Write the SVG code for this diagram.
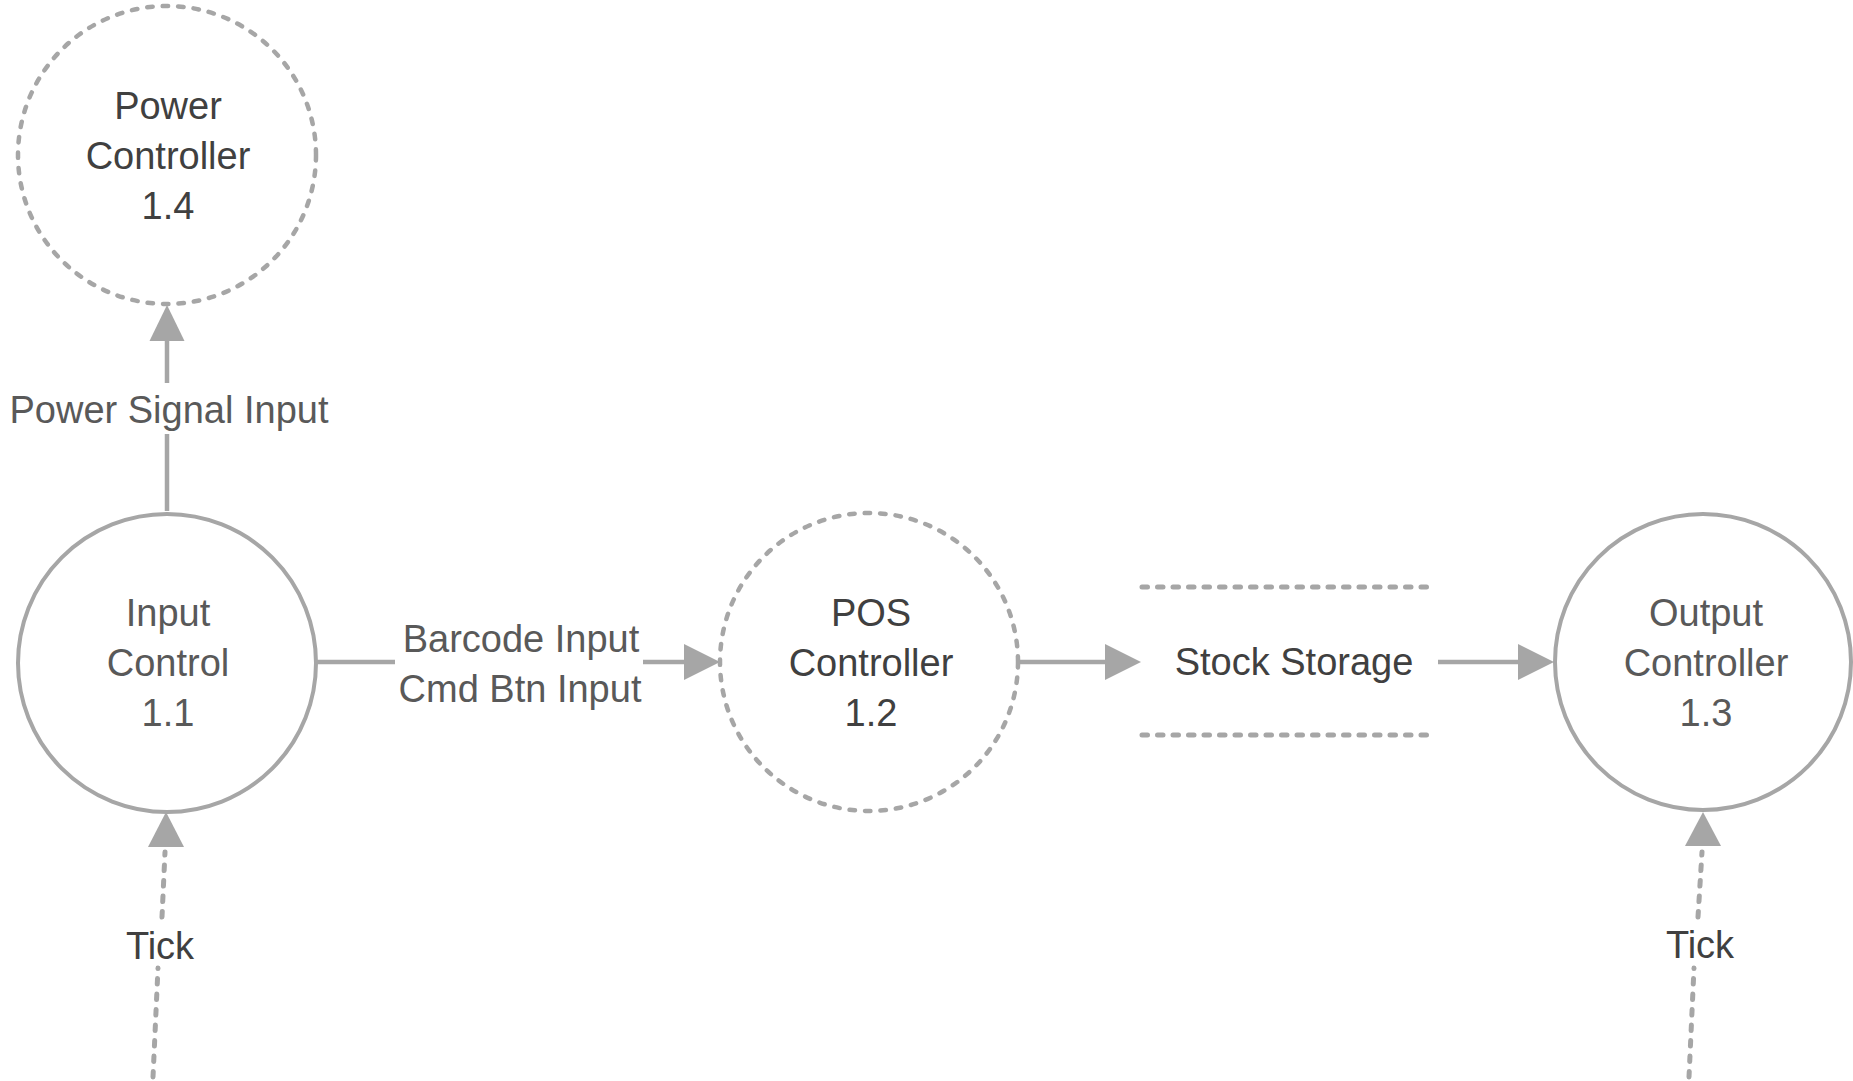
<svg xmlns="http://www.w3.org/2000/svg" width="1853" height="1081" viewBox="0 0 1853 1081">
<style>
.bg{fill:#ffffff}
.solid{fill:#ffffff;stroke:#a6a6a6;stroke-width:4}
.dashed{fill:#ffffff;stroke:#a6a6a6;stroke-width:4.5;stroke-dasharray:5.5 10;stroke-linecap:round}
.conn{fill:none;stroke:#a6a6a6;stroke-width:4.5}
.dconn{fill:none;stroke:#a6a6a6;stroke-width:5;stroke-dasharray:5.5 10;stroke-linecap:round}
.head{fill:#a6a6a6}
text{font-family:"Liberation Sans",Arial,sans-serif;font-size:38px;text-anchor:middle}
.dk{fill:#404040}
.md{fill:#595959}
</style>
<rect class="bg" x="0" y="0" width="1853" height="1081"/>
<g id="connectors">
  <line class="conn" x1="167" y1="511" x2="167" y2="434"/>
  <line class="conn" x1="167" y1="383" x2="167" y2="340"/>
  <polygon class="head" points="167,305 149.5,341 184.5,341"/>
  <text class="md" x="169" y="423">Power Signal Input</text>
  <line class="conn" x1="317" y1="662" x2="395" y2="662"/>
  <line class="conn" x1="643" y1="662" x2="685" y2="662"/>
  <polygon class="head" points="720,662 684,644 684,680"/>
  <text class="md" x="521" y="652">Barcode Input</text>
  <text class="md" x="520" y="702">Cmd Btn Input</text>
  <line class="conn" x1="1018" y1="662" x2="1106" y2="662"/>
  <polygon class="head" points="1141,662 1105,644 1105,680"/>
  <line class="conn" x1="1438" y1="662" x2="1519" y2="662"/>
  <polygon class="head" points="1554,662 1518,644 1518,680"/>
  <line class="dconn" x1="153" y1="1077" x2="158" y2="968"/>
  <line class="dconn" x1="162" y1="917" x2="165" y2="852"/>
  <polygon class="head" points="166,812 148,847 184,847"/>
  <text class="dk" x="160" y="959">Tick</text>
  <line class="dconn" x1="1689" y1="1077" x2="1694" y2="968"/>
  <line class="dconn" x1="1698" y1="917" x2="1702" y2="852"/>
  <polygon class="head" points="1703,812 1685,846 1721,846"/>
  <text class="dk" x="1700" y="958">Tick</text>
</g>
<g id="node-power">
  <circle class="dashed" cx="167" cy="155" r="149"/>
  <text class="dk" x="168" y="119">Power</text>
  <text class="dk" x="168" y="169">Controller</text>
  <text class="dk" x="168" y="219">1.4</text>
</g>
<g id="node-input">
  <circle class="solid" cx="167" cy="663" r="149"/>
  <text class="md" x="168" y="626">Input</text>
  <text class="md" x="168" y="676">Control</text>
  <text class="md" x="168" y="726">1.1</text>
</g>
<g id="node-pos">
  <circle class="dashed" cx="869" cy="662" r="149"/>
  <text class="dk" x="871" y="626">POS</text>
  <text class="dk" x="871" y="676">Controller</text>
  <text class="dk" x="871" y="726">1.2</text>
</g>
<g id="node-stock">
  <line class="dconn" x1="1142" y1="587" x2="1434" y2="587"/>
  <line class="dconn" x1="1142" y1="735" x2="1434" y2="735"/>
  <text class="dk" x="1294" y="675">Stock Storage</text>
</g>
<g id="node-output">
  <circle class="solid" cx="1703" cy="662" r="148"/>
  <text class="md" x="1706" y="626">Output</text>
  <text class="md" x="1706" y="676">Controller</text>
  <text class="md" x="1706" y="726">1.3</text>
</g>
</svg>
